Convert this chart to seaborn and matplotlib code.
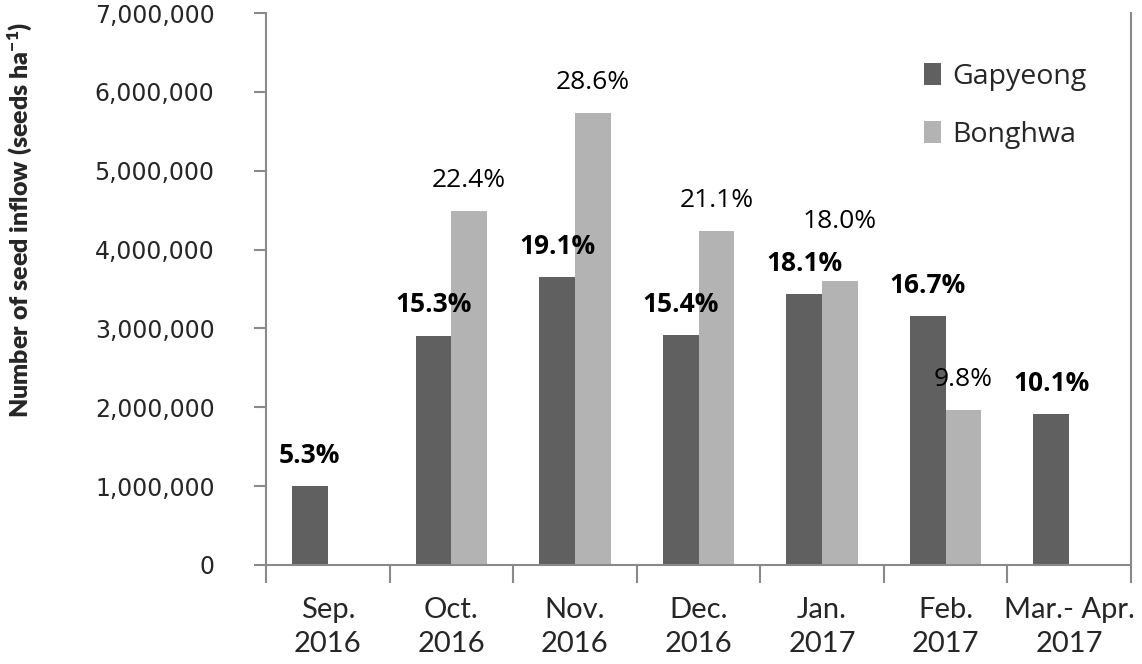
import numpy as np
import pandas as pd
import matplotlib
matplotlib.use("Agg")
import matplotlib.pyplot as plt
import seaborn as sns

categories = ["Sep.\n2016", "Oct.\n2016", "Nov.\n2016", "Dec.\n2016",
              "Jan.\n2017", "Feb.\n2017", "Mar.- Apr.\n2017"]
gapyeong = [1000000, 2910000, 3650000, 2920000, 3440000, 3160000, 1920000]
bonghwa = [np.nan, 4490000, 5730000, 4230000, 3600000, 1960000, np.nan]
gapyeong_pct = ["5.3%", "15.3%", "19.1%", "15.4%", "18.1%", "16.7%", "10.1%"]
bonghwa_pct = [None, "22.4%", "28.6%", "21.1%", "18.0%", "9.8%", None]
series = ["Gapyeong", "Bonghwa"]
colors = ["#606060", "#b3b3b3"]
yticks = [0, 1000000, 2000000, 3000000, 4000000, 5000000, 6000000, 7000000]

sns.set_style("white")
plt.rcParams['font.family'] = ['Open Sans', 'DejaVu Sans']
plt.rcParams['mathtext.default'] = 'regular'

df = pd.DataFrame({
    "month": categories * 2,
    "value": gapyeong + bonghwa,
    "site": [series[0]] * len(categories) + [series[1]] * len(categories),
})

fig = plt.figure(figsize=(11.42, 6.64), dpi=100)
ax = fig.add_axes([266 / 1142, 99 / 664, 865 / 1142, 552 / 664])

sns.barplot(data=df, x="month", y="value", hue="site", order=categories,
            hue_order=series, palette=colors, saturation=1, width=0.58,
            errorbar=None, ax=ax, linewidth=0)

# label offsets above bar tops (points); one label was lifted to avoid overlap
base_offset = 22
lifted = {(1, 4): 43}

for si, (cont, labs) in enumerate(zip(ax.containers, [gapyeong_pct, bonghwa_pct])):
    for bar in cont:
        h = bar.get_height()
        xc = bar.get_x() + bar.get_width() / 2
        idx = int(round(xc))
        if not np.isfinite(h) or idx < 0 or idx >= len(labs) or labs[idx] is None:
            continue
        ax.annotate(labs[idx], (xc, h),
                    xytext=(0, lifted.get((si, idx), base_offset)),
                    textcoords="offset points",
                    ha="center", va="center", fontsize=19,
                    fontweight="bold" if si == 0 else "normal", color="black")

ax.set_ylim(0, 7000000)
ax.set_xlim(-0.5, len(categories) - 0.5)
ax.set_yticks(yticks)
ax.set_yticklabels([f"{v:,}" for v in yticks], fontsize=17,
                   fontfamily="DejaVu Sans")
ax.tick_params(axis="y", length=9, width=1.5, color="#898989", pad=28,
               left=True)

# x: boundary ticks as major, labels as minor
ax.set_xticks(np.arange(-0.5, len(categories), 1.0))
ax.set_xticklabels([])
ax.set_xticks(np.arange(len(categories)), minor=True)
ax.set_xticklabels(categories, minor=True, fontsize=21,
                   fontfamily=["Lato", "DejaVu Sans"],
                   linespacing=1.36)
ax.tick_params(axis="x", which="major", length=13, width=1.5,
               color="#898989", bottom=True)
ax.tick_params(axis="x", which="minor", length=0, pad=23)

for s in ["left", "bottom", "right"]:
    ax.spines[s].set_color("#898989")
    ax.spines[s].set_linewidth(1.5)
ax.spines["top"].set_visible(False)

ax.set_xlabel("")
ax.set_ylabel("")
fig.text(20 / 1142, 1 - 220 / 664,
         r"Number of seed inflow (seeds ha$^{\mathregular{-1}}$)",
         rotation=90, ha="center", va="center", fontsize=18,
         fontweight="heavy", fontfamily=["Lato", "DejaVu Sans"])

handles, labels = ax.get_legend_handles_labels()
ax.legend(handles, labels, frameon=False, loc="upper left",
          bbox_to_anchor=(0.761, 0.91), fontsize=20.5, borderpad=0,
          borderaxespad=0, handlelength=0.6, handleheight=0.85,
          handletextpad=0.4, labelspacing=1.05)

fig.savefig("out.png", dpi=100)
